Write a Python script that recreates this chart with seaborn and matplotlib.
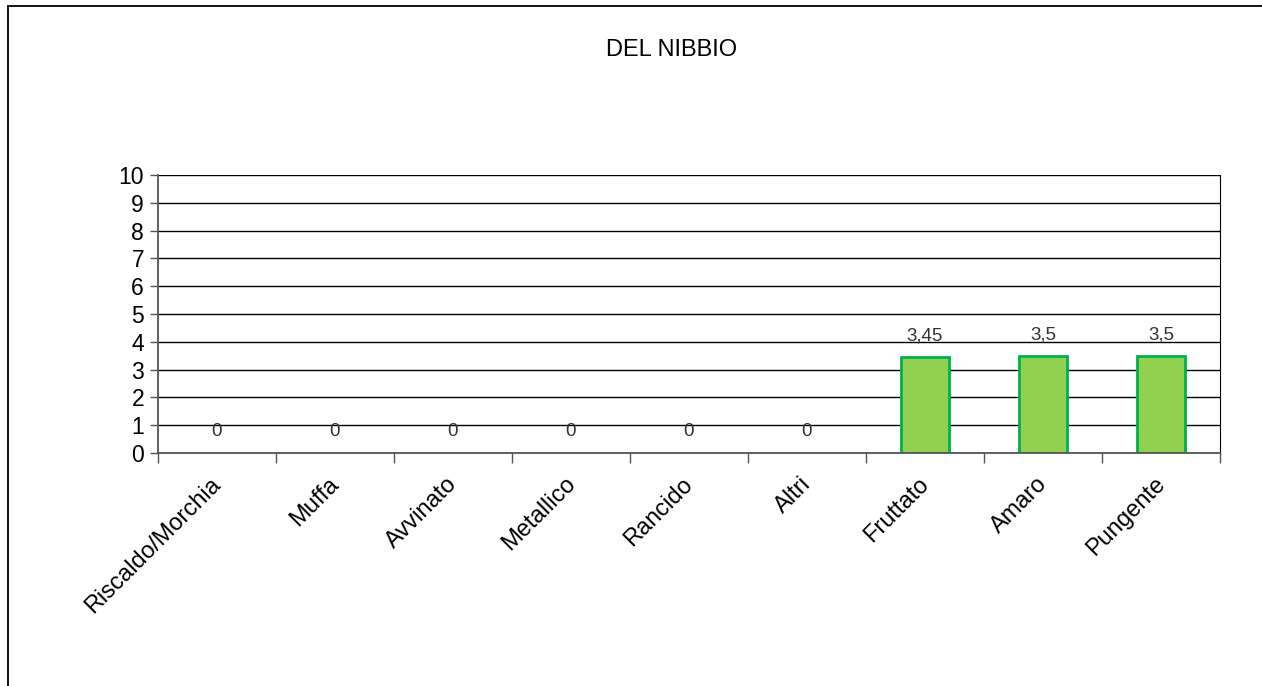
import matplotlib
matplotlib.use("Agg")
import matplotlib.pyplot as plt
import matplotlib.transforms as mtransforms
from matplotlib.lines import Line2D
from matplotlib.ticker import FixedLocator
import pandas as pd
import seaborn as sns

# dati
categorie = ["Riscaldo/Morchia", "Muffa", "Avvinato", "Metallico", "Rancido",
             "Altri", "Fruttato", "Amaro", "Pungente"]
valori = [0, 0, 0, 0, 0, 0, 3.45, 3.5, 3.5]
titolo = "DEL NIBBIO"

sns.set_style("white")
plt.rcParams["font.family"] = ["Liberation Sans", "DejaVu Sans"]

df = pd.DataFrame({"categoria": categorie, "valore": valori})

fig = plt.figure(figsize=(12.62, 6.86), dpi=100)
ax = fig.add_axes([158 / 1262, 1 - 453 / 686, (1220 - 158) / 1262, (453 - 175) / 686])

sns.barplot(data=df, x="categoria", y="valore", color="#92D050", saturation=1,
            width=0.4, edgecolor="#00B050", linewidth=2, ax=ax, zorder=2)
# le barre a zero non mostrano bordo
for p in ax.patches:
    if p.get_height() == 0:
        p.set_linewidth(0)

ax.set_xlim(-0.5, len(categorie) - 0.5)
ax.set_ylim(0, 10)
ax.set_yticks(range(0, 11))
ax.yaxis.grid(True, color="black", linewidth=1)
ax.set_axisbelow(True)
ax.set_xlabel("")
ax.set_ylabel("")

for side in ["left", "bottom"]:
    ax.spines[side].set_color("#555555")
    ax.spines[side].set_linewidth(1.3)
ax.spines["right"].set_color("black")
ax.spines["top"].set_visible(False)

ax.tick_params(axis="y", length=6, width=1, color="#555555", labelsize=16.5, pad=4,
               left=True, labelcolor="black")
ax.tick_params(axis="x", which="major", length=0, labelsize=17, pad=8, labelcolor="black")
ax.xaxis.set_minor_locator(FixedLocator([i - 0.5 for i in range(len(categorie) + 1)]))
ax.tick_params(axis="x", which="minor", length=7, width=1, color="#555555", bottom=True)
shift = mtransforms.ScaledTranslation(-7 / 100, -9 / 100, fig.dpi_scale_trans)
for lbl in ax.get_xticklabels():
    lbl.set_rotation(45)
    lbl.set_ha("right")
    lbl.set_rotation_mode("anchor")
    lbl.set_transform(lbl.get_transform() + shift)

# etichette dei valori con virgola decimale
for i, v in enumerate(valori):
    ax.annotate(f"{v:g}".replace(".", ","), (i, v), xytext=(0, 9),
                textcoords="offset points", ha="center", va="bottom",
                fontsize=13.5, color="#333333")

fig.text(672 / 1262, 1 - 50 / 686, titolo, ha="center", va="center", fontsize=17,
         color="black")

# cornice del grafico (solo bordo sinistro e superiore visibili)
fig.add_artist(Line2D([8 / 1262, 8 / 1262], [0, 1 - 6 / 686], color="black", lw=1.3))
fig.add_artist(Line2D([8 / 1262, 1], [1 - 6 / 686, 1 - 6 / 686], color="black", lw=1.3))

fig.savefig("out.png", dpi=100)
